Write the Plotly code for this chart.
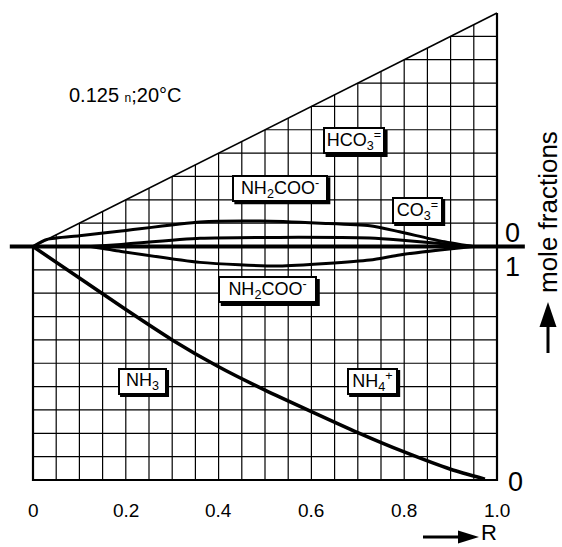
import plotly.graph_objects as go

# ---------------- data ----------------
# upper region (CO2 species), height above baseline in mole-fraction units
curveA_R = [0.0, 0.03, 0.10, 0.19, 0.36, 0.49, 0.62, 0.726, 0.79, 0.877, 0.948]
curveA_y = [0.0, 0.03, 0.046, 0.066, 0.105, 0.109, 0.100, 0.089, 0.063, 0.024, 0.0]

curveB_R = [0.125, 0.19, 0.36, 0.53, 0.726, 0.79, 0.877, 0.948]
curveB_y = [0.0, 0.009, 0.035, 0.039, 0.036, 0.028, 0.013, 0.0]

# lower region: depth below baseline
curveC_R = [0.125, 0.19, 0.36, 0.53, 0.726, 0.79, 0.877, 0.948]
curveC_d = [0.0, 0.021, 0.068, 0.084, 0.058, 0.036, 0.015, 0.0]

# NH3 / NH4+ boundary, lower mole-fraction scale (1 at baseline, 0 at bottom)
curveD_R = [0.0, 0.1, 0.2, 0.3, 0.4, 0.5, 0.6, 0.7, 0.8, 0.9, 0.974]
curveD_f = [1.0, 0.865, 0.73, 0.60, 0.485, 0.385, 0.293, 0.203, 0.12, 0.046, 0.004]

x_tick_vals = [0.0, 0.2, 0.4, 0.6, 0.8, 1.0]
x_tick_labels = ["0", "0.2", "0.4", "0.6", "0.8", "1.0"]

species_labels = ["HCO<sub>3</sub><sup>=</sup>", "NH<sub>2</sub>COO<sup>-</sup>",
                  "CO<sub>3</sub><sup>=</sup>", "NH<sub>2</sub>COO<sup>-</sup>",
                  "NH<sub>3</sub>", "NH<sub>4</sub><sup>+</sup>"]
species_x = [0.692, 0.532, 0.828, 0.506, 0.235, 0.731]
species_y = [0.452, 0.25, 0.156, -0.186, -0.576, -0.576]
box_w = [62, 96, 51, 99, 49, 51]   # label box widths, px
BOX_H = 27

# ---------------- layout helpers ----------------
W, H = 562, 547
X0, XS = 33.0, 464.0      # pixel of R=0, pixels per unit R
Y0, YS = 246.5, 233.5     # pixel of baseline, pixels per unit fraction
FONT = "Liberation Sans, Arial, Helvetica, sans-serif"
BW, BP = 2, 1


def pxp(xp):
    return xp / W


def pyp(yp):
    return 1 - yp / H


fig = go.Figure()

# grid
cols = [i * 0.05 for i in range(21)]
rows = [j * 0.1 for j in range(11)]
gx, gy = [], []
for c in cols:
    gx += [c, c, None]; gy += [-1, 0, None]
    gx += [c, c, None]; gy += [0, c, None]
for r in rows:
    gx += [0, 1, None]; gy += [-r, -r, None]
for r in rows[1:]:
    gx += [r, 1, None]; gy += [r, r, None]
fig.add_trace(go.Scatter(x=gx, y=gy, mode="lines", line=dict(color="#000", width=1.2),
                         hoverinfo="skip", showlegend=False))

# frame
fig.add_trace(go.Scatter(x=[0, 0, 1, 1], y=[0, -1, -1, 1], mode="lines",
                         line=dict(color="black", width=2.2), hoverinfo="skip", showlegend=False))
fig.add_trace(go.Scatter(x=[0, 1], y=[0, 1], mode="lines",
                         line=dict(color="black", width=1.6), hoverinfo="skip", showlegend=False))
# baseline
fig.add_trace(go.Scatter(x=[-0.05, 1.06], y=[0, 0], mode="lines",
                         line=dict(color="black", width=4), hoverinfo="skip", showlegend=False))

# curves
fig.add_trace(go.Scatter(x=curveA_R, y=curveA_y, mode="lines",
                         line=dict(color="black", width=3, shape="spline", smoothing=0.6),
                         showlegend=False))
fig.add_trace(go.Scatter(x=curveB_R, y=curveB_y, mode="lines",
                         line=dict(color="black", width=3, shape="spline", smoothing=0.6),
                         showlegend=False))
fig.add_trace(go.Scatter(x=curveC_R, y=[-d for d in curveC_d], mode="lines",
                         line=dict(color="black", width=3, shape="spline", smoothing=0.6),
                         showlegend=False))
fig.add_trace(go.Scatter(x=curveD_R, y=[f - 1 for f in curveD_f], mode="lines",
                         line=dict(color="black", width=3.5, shape="spline", smoothing=0.6),
                         showlegend=False))

ann = []
shapes = []
# species label boxes with a drop shadow (shadow drawn as a shape)
for t, x, y, bw in zip(species_labels, species_x, species_y, box_w):
    hx = bw / 2 / XS
    hy = BOX_H / 2 / YS
    sx = 2.5 / XS
    sy = 2.5 / YS
    shapes.append(dict(type="rect", xref="x", yref="y",
                       x0=x - hx + sx, x1=x + hx + sx, y0=y - hy - sy, y1=y + hy - sy,
                       fillcolor="black", line=dict(width=0), layer="above"))
    ann.append(dict(x=x, y=y, text=t, showarrow=False, xanchor="center", yanchor="middle",
                    width=bw - 2 * (BW + BP), height=BOX_H - 2 * (BW + BP),
                    font=dict(family=FONT, size=18, color="black"),
                    bgcolor="white", bordercolor="black", borderwidth=BW, borderpad=BP))

# x tick labels
for v, t in zip(x_tick_vals, x_tick_labels):
    ann.append(dict(x=v, y=(Y0 - 510) / YS, text=t, showarrow=False,
                    xanchor="center", yanchor="middle",
                    font=dict(family=FONT, size=19, color="black")))

# right scale labels
for txt, xp, yp in [("0", 512, 233), ("1", 512, 267), ("0", 515, 482)]:
    ann.append(dict(x=(xp - X0) / XS, y=(Y0 - yp) / YS, text=txt, showarrow=False,
                    xanchor="center", yanchor="middle",
                    font=dict(family=FONT, size=27, color="black")))

# axis titles
ann.append(dict(xref="paper", yref="paper", x=pxp(548), y=pyp(212), text="mole fractions",
                textangle=-90, showarrow=False, xanchor="center", yanchor="middle",
                font=dict(family=FONT, size=26, color="black")))
ann.append(dict(xref="paper", yref="paper", x=pxp(489), y=pyp(547), text="R",
                showarrow=False, xanchor="center", yanchor="bottom",
                font=dict(family=FONT, size=22, color="black")))
ann.append(dict(xref="paper", yref="paper", x=pxp(67), y=pyp(95), xanchor="left", yanchor="middle",
                text="0.125 <span style='font-size:12px'>n</span>;20°C", showarrow=False,
                font=dict(family=FONT, size=20, color="black")))

shapes += [
    dict(type="line", xref="paper", yref="paper", x0=pxp(548), x1=pxp(548), y0=pyp(353), y1=pyp(324),
         line=dict(color="black", width=3)),
    dict(type="path", xref="paper", yref="paper",
         path=f"M {pxp(539.5)} {pyp(327)} L {pxp(556.5)} {pyp(327)} L {pxp(548)} {pyp(302)} Z",
         fillcolor="black", line=dict(color="black", width=0)),
    dict(type="line", xref="paper", yref="paper", x0=pxp(423), x1=pxp(461), y0=pyp(537), y1=pyp(537),
         line=dict(color="black", width=3)),
    dict(type="path", xref="paper", yref="paper",
         path=f"M {pxp(458)} {pyp(530.5)} L {pxp(458)} {pyp(543.5)} L {pxp(479)} {pyp(537)} Z",
         fillcolor="black", line=dict(color="black", width=0)),
]

fig.update_layout(
    width=W, height=H, margin=dict(l=0, r=0, t=0, b=0),
    paper_bgcolor="white", plot_bgcolor="white",
    xaxis=dict(range=[-X0 / XS, (W - X0) / XS], visible=False, fixedrange=True),
    yaxis=dict(range=[-(H - Y0) / YS, Y0 / YS], visible=False, fixedrange=True),
    annotations=ann, shapes=shapes, showlegend=False,
)

fig.write_html("out.html")
